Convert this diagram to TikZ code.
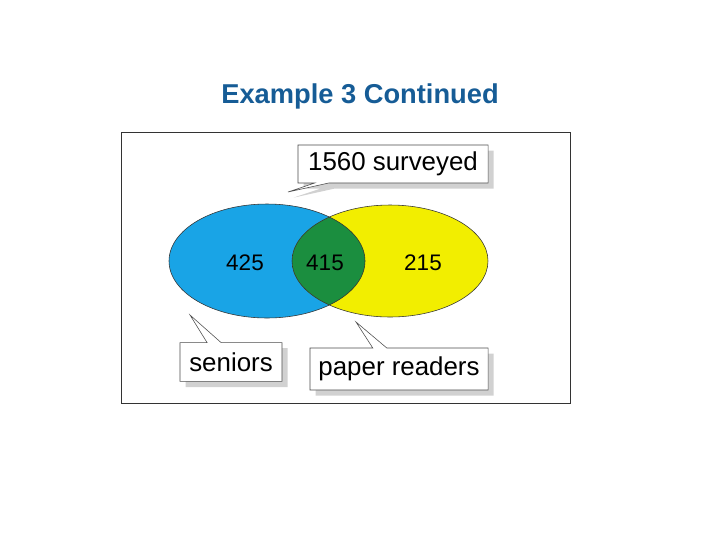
\documentclass[tikz,border=0pt]{standalone}
\usepackage{fontspec}
\setmainfont{Liberation Sans}
\usetikzlibrary{shapes.callouts,shadows}
\definecolor{titleblue}{RGB}{22,92,150}
\definecolor{senblue}{RGB}{25,164,230}
\definecolor{readyellow}{RGB}{242,238,0}
\definecolor{bothgreen}{RGB}{27,142,63}
\begin{document}
\begin{tikzpicture}[x=0.025cm,y=-0.025cm,
  tag/.style={rectangle callout,draw=black!70,fill=white,thin,inner sep=2pt,
    callout pointer width=0.35cm,font=\fontsize{18.4}{20}\selectfont,
    drop shadow={shadow xshift=4pt,shadow yshift=-4pt,fill=black!30,opacity=.6}},
  count/.style={font=\fontsize{16}{18}\selectfont}]
  \useasboundingbox (0,0) rectangle (720,540);
  \node[font=\bfseries\fontsize{19.4}{22}\selectfont,text=titleblue] (title) at (360,96) {Example 3 Continued};
  \draw[black!80] (121,132) rectangle (570,403);
  % the two sets
  \fill[senblue] (267,261) ellipse [x radius=98,y radius=57];
  \fill[readyellow] (390,261) ellipse [x radius=98,y radius=56];
  \begin{scope}
    \clip (267,261) ellipse [x radius=98,y radius=57];
    \fill[bothgreen] (390,261) ellipse [x radius=98,y radius=56];
  \end{scope}
  \draw[black!80,thin] (267,261) ellipse [x radius=98,y radius=57];
  \draw[black!80,thin] (390,261) ellipse [x radius=98,y radius=56];
  \node[count] (n425) at (245,263) {425};
  \node[count] (n415) at (325,263) {415};
  \node[count] (n215) at (423,263) {215};
  % callouts
  \coordinate (tipall) at (288,192);
  \coordinate (tipsen) at (190,315);
  \coordinate (tipread) at (356,322);
  \node[tag,minimum width=4.75cm,minimum height=0.95cm,callout absolute pointer={(tipall)}] (all) at (393,164) {1560 surveyed};
  \node[tag,minimum width=2.55cm,minimum height=0.97cm,callout absolute pointer={(tipsen)}] (sen) at (231,362) {seniors};
  \node[tag,minimum width=4.45cm,minimum height=1.05cm,callout absolute pointer={(tipread)}] (read) at (399,369) {paper readers};
\end{tikzpicture}
\end{document}
